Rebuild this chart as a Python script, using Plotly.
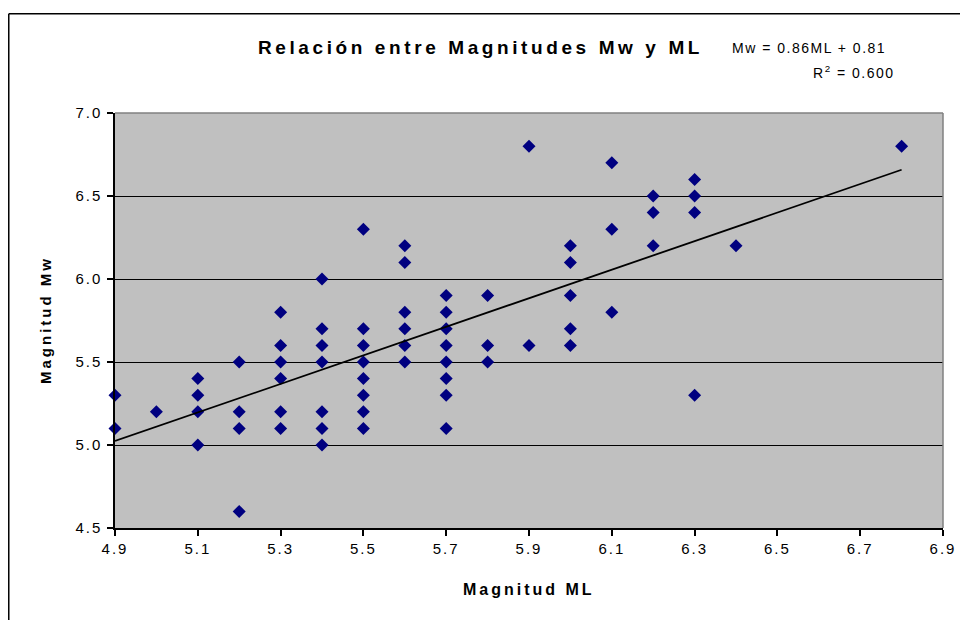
import plotly.graph_objects as go

# ---- data ----
ml = [4.9, 4.9,
      5.0,
      5.1, 5.1, 5.1, 5.1,
      5.2, 5.2, 5.2, 5.2,
      5.3, 5.3, 5.3, 5.3, 5.3, 5.3,
      5.4, 5.4, 5.4, 5.4, 5.4, 5.4, 5.4,
      5.5, 5.5, 5.5, 5.5, 5.5, 5.5, 5.5, 5.5,
      5.6, 5.6, 5.6, 5.6, 5.6, 5.6,
      5.7, 5.7, 5.7, 5.7, 5.7, 5.7, 5.7, 5.7,
      5.8, 5.8, 5.8,
      5.9, 5.9,
      6.0, 6.0, 6.0, 6.0, 6.0,
      6.1, 6.1, 6.1,
      6.2, 6.2, 6.2,
      6.3, 6.3, 6.3, 6.3,
      6.4,
      6.8]
mw = [5.3, 5.1,
      5.2,
      5.4, 5.3, 5.2, 5.0,
      5.5, 5.2, 5.1, 4.6,
      5.8, 5.6, 5.5, 5.4, 5.2, 5.1,
      6.0, 5.7, 5.6, 5.5, 5.2, 5.1, 5.0,
      6.3, 5.7, 5.6, 5.5, 5.4, 5.3, 5.2, 5.1,
      6.2, 6.1, 5.8, 5.7, 5.6, 5.5,
      5.9, 5.8, 5.7, 5.6, 5.5, 5.4, 5.3, 5.1,
      5.9, 5.6, 5.5,
      6.8, 5.6,
      6.2, 6.1, 5.9, 5.7, 5.6,
      6.7, 6.3, 5.8,
      6.5, 6.4, 6.2,
      6.6, 6.5, 6.4, 5.3,
      6.2,
      6.8]

slope = 0.86
intercept = 0.81
r2_text = "0.600"

x_ticks = [4.9, 5.1, 5.3, 5.5, 5.7, 5.9, 6.1, 6.3, 6.5, 6.7, 6.9]
x_tick_labels = ["4.9", "5.1", "5.3", "5.5", "5.7", "5.9", "6.1", "6.3", "6.5", "6.7", "6.9"]
y_ticks = [4.5, 5.0, 5.5, 6.0, 6.5, 7.0]
y_tick_labels = ["4.5", "5.0", "5.5", "6.0", "6.5", "7.0"]

title_text = "Relación entre Magnitudes Mw y ML"
x_title = "Magnitud ML"
y_title = "Magnitud Mw"

# ---- trend line from the stated fit ----
x_fit = [min(ml), max(ml)]
y_fit = [slope * v + intercept for v in x_fit]

FONT = "Liberation Sans, Arial, sans-serif"


def spaced(text, px):
    return f'<span style="letter-spacing:{px}px">{text}</span>'


fig = go.Figure()
fig.add_trace(go.Scatter(
    x=ml, y=mw, mode="markers",
    marker=dict(symbol="diamond", size=10, color="#000080"),
    cliponaxis=False, showlegend=False,
))
fig.add_trace(go.Scatter(
    x=x_fit, y=y_fit, mode="lines",
    line=dict(color="black", width=1.8),
    showlegend=False,
))

fig.update_layout(
    width=960, height=612,
    margin=dict(l=107, r=19, t=105, b=92),
    paper_bgcolor="white",
    plot_bgcolor="#C0C0C0",
    font=dict(family=FONT, color="black"),
    xaxis=dict(
        range=[4.9, 6.9], tickvals=x_ticks,
        ticktext=[spaced(t, 2) for t in x_tick_labels],
        showgrid=False, zeroline=False,
        showline=True, linecolor="black", linewidth=1.5,
        ticks="outside", ticklen=6, tickcolor="black", tickwidth=1.5,
        tickfont=dict(size=15, family=FONT, color="black"),
    ),
    yaxis=dict(
        range=[4.5, 7.0], tickvals=y_ticks,
        ticktext=[spaced(t, 2) for t in y_tick_labels],
        ticklabelstandoff=2,
        showgrid=True, gridcolor="black", gridwidth=1.2, zeroline=False,
        showline=True, linecolor="black", linewidth=1.5,
        ticks="outside", ticklen=6, tickcolor="black", tickwidth=1.5,
        tickfont=dict(size=15, family=FONT, color="black"),
    ),
    shapes=[
        # grey plot-area border on top and right
        dict(type="line", xref="paper", yref="paper", x0=0, x1=1, y0=1, y1=1,
             line=dict(color="#808080", width=1.5), layer="above"),
        dict(type="line", xref="paper", yref="paper", x0=1, x1=1, y0=0, y1=1,
             line=dict(color="#808080", width=1.5), layer="above"),
        # outer chart frame (top and left visible)
        dict(type="line", xref="paper", yref="paper", x0=-0.1283, x1=1.05, y0=1.239, y1=1.239,
             line=dict(color="black", width=1.5)),
        dict(type="line", xref="paper", yref="paper", x0=-0.1283, x1=-0.1283, y0=-0.25, y1=1.239,
             line=dict(color="black", width=1.5)),
    ],
    annotations=[
        dict(text=f"<b>{spaced(title_text, 3.6)}</b>", xref="paper", yref="paper",
             x=0.441, y=1.159, xanchor="center", yanchor="middle", showarrow=False,
             font=dict(size=19, family=FONT, color="black")),
        dict(text=spaced(f"Mw = {slope}ML + {intercept}", 1.5), xref="paper", yref="paper",
             x=0.743, y=1.157, xanchor="left", yanchor="middle", showarrow=False,
             font=dict(size=14, family=FONT, color="black")),
        dict(text=spaced(f"R<sup>2</sup> = {r2_text}", 1.5), xref="paper", yref="paper",
             x=0.945, y=1.099, xanchor="right", yanchor="middle", showarrow=False,
             font=dict(size=14, family=FONT, color="black")),
        dict(text=f"<b>{spaced(x_title, 3)}</b>", xref="paper", yref="paper",
             x=0.5, y=-0.149, xanchor="center", yanchor="middle", showarrow=False,
             font=dict(size=16, family=FONT, color="black")),
        dict(text=f"<b>{spaced(y_title, 3)}</b>", xref="paper", yref="paper",
             x=-0.0839, y=0.5, xanchor="center", yanchor="middle", showarrow=False,
             textangle=-90,
             font=dict(size=15, family=FONT, color="black")),
    ],
)

fig.write_html("out.html")
